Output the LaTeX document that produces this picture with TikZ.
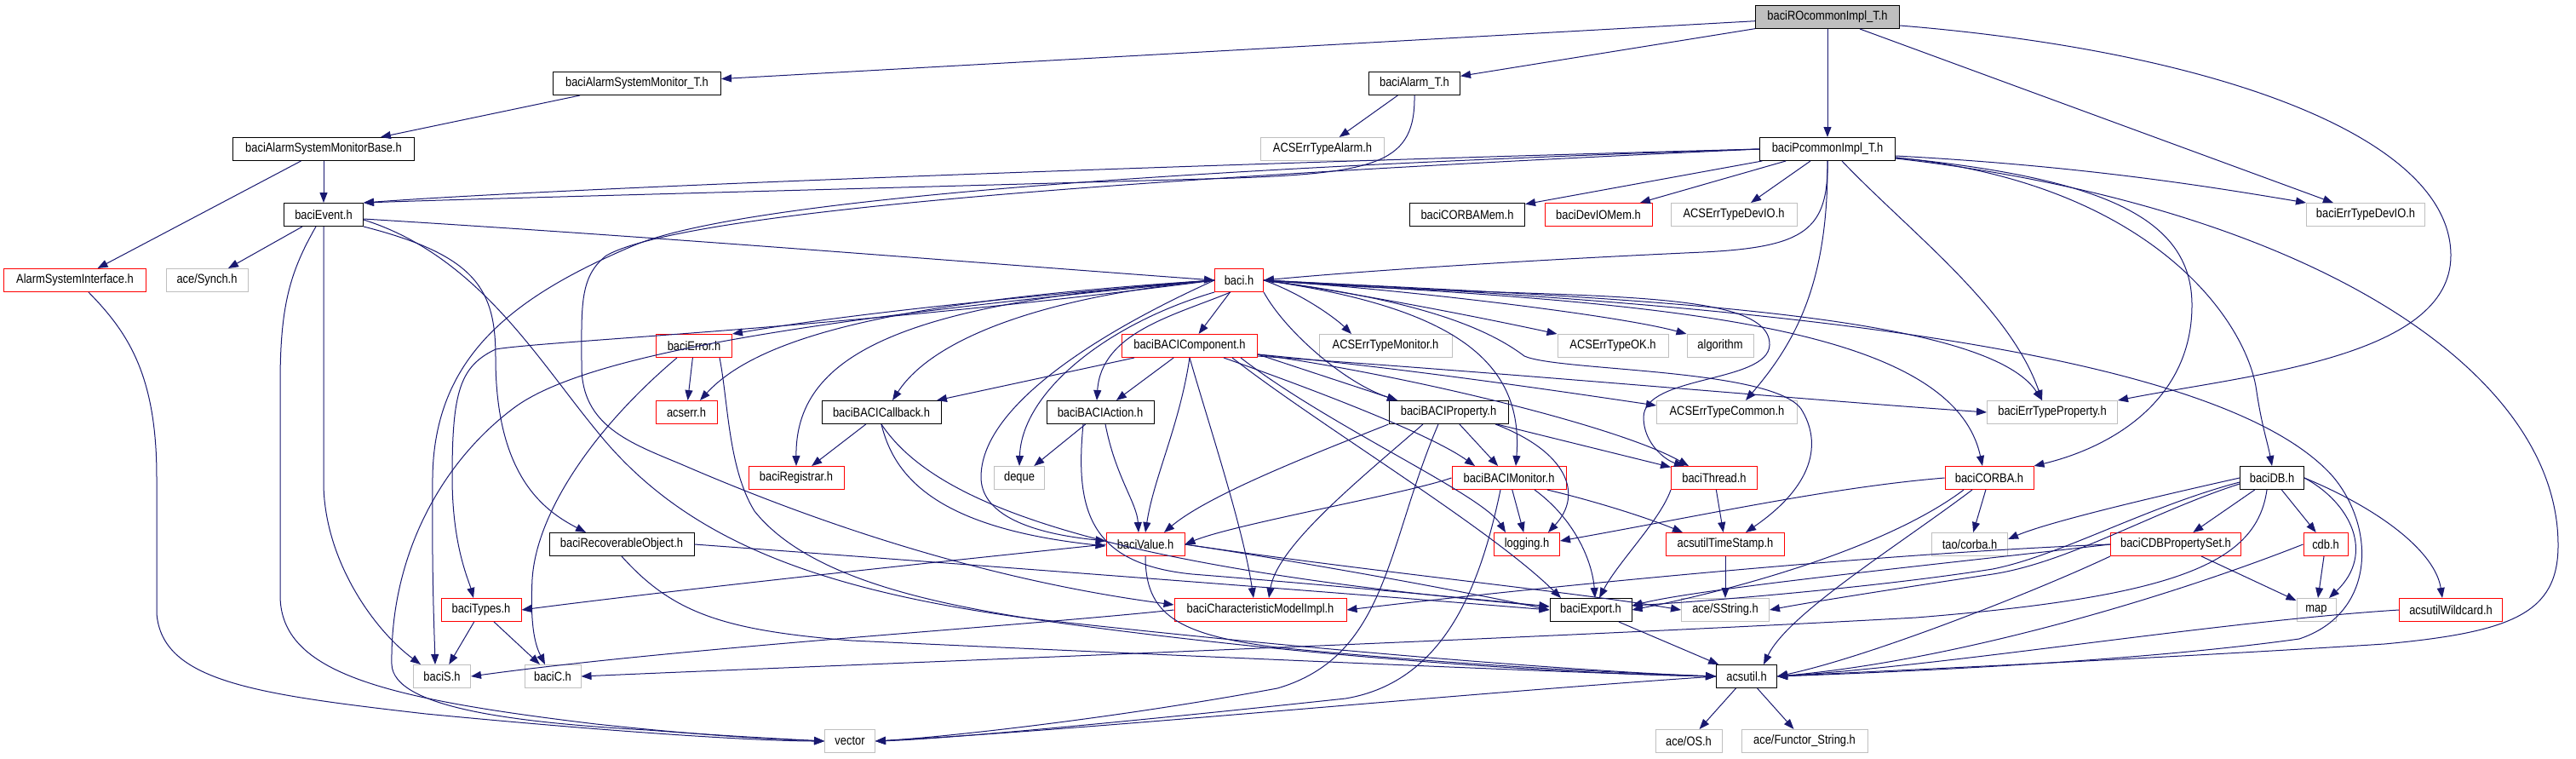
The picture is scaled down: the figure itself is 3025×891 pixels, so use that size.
\documentclass[tikz,border=0pt]{standalone}
\usepackage{fontspec}
\setmainfont{Liberation Sans}[FakeStretch=0.86]
\usetikzlibrary{arrows.meta}
\definecolor{navy}{HTML}{191970}
\definecolor{gbord}{HTML}{BFBFBF}
\begin{document}
\begin{tikzpicture}[x=1pt,y=-1pt,
  box/.style={draw, minimum height=27pt, inner sep=0pt, line width=1pt, font=\fontsize{15}{15}\selectfont, text=black},
  blk/.style={box, draw=black},
  redb/.style={box, draw=red},
  gryb/.style={box, draw=gbord},
  rootb/.style={box, draw=black, fill=gbord},
  edge/.style={draw=navy, line width=1pt, -{Triangle[length=12pt,width=9pt]}}]
\useasboundingbox (0,0) rectangle (3025,891);
% nodes
\node[rootb, minimum width=169pt] (RO) at (2146,20) {baciROcommonImpl\_T.h};
\node[blk, minimum width=197pt] (ASMT) at (748,98) {baciAlarmSystemMonitor\_T.h};
\node[blk, minimum width=107pt] (AlT) at (1661,98) {baciAlarm\_T.h};
\node[blk, minimum width=213pt] (ASMB) at (380,175) {baciAlarmSystemMonitorBase.h};
\node[gryb, minimum width=145pt] (ETAl) at (1553,175) {ACSErrTypeAlarm.h};
\node[blk, minimum width=159pt] (Pc) at (2146,175) {baciPcommonImpl\_T.h};
\node[blk, minimum width=93pt] (Ev) at (380,252) {baciEvent.h};
\node[blk, minimum width=135pt] (CMem) at (1723,252) {baciCORBAMem.h};
\node[redb, minimum width=126pt] (DMem) at (1877,252) {baciDevIOMem.h};
\node[gryb, minimum width=148pt] (ETDev) at (2036,252) {ACSErrTypeDevIO.h};
\node[gryb, minimum width=139pt] (bETDev) at (2778,252) {baciErrTypeDevIO.h};
\node[redb, minimum width=167pt] (ASI) at (88,329) {AlarmSystemInterface.h};
\node[gryb, minimum width=96pt] (Syn) at (243,329) {ace/Synch.h};
\node[redb, minimum width=57pt] (baci) at (1455,329) {baci.h};
\node[redb, minimum width=89pt] (Err) at (815,406) {baciError.h};
\node[redb, minimum width=159pt] (Comp) at (1397,406) {baciBACIComponent.h};
\node[gryb, minimum width=156pt] (ETMon) at (1627,406) {ACSErrTypeMonitor.h};
\node[gryb, minimum width=130pt] (ETOK) at (1894,406) {ACSErrTypeOK.h};
\node[gryb, minimum width=78pt] (alg) at (2020,406) {algorithm};
\node[redb, minimum width=72pt] (acserr) at (806,484) {acserr.h};
\node[blk, minimum width=140pt] (Cb) at (1035,484) {baciBACICallback.h};
\node[blk, minimum width=126pt] (Act) at (1292,484) {baciBACIAction.h};
\node[blk, minimum width=140pt] (Prop) at (1701,484) {baciBACIProperty.h};
\node[gryb, minimum width=165pt] (ETCom) at (2028,484) {ACSErrTypeCommon.h};
\node[gryb, minimum width=153pt] (bETProp) at (2410,484) {baciErrTypeProperty.h};
\node[redb, minimum width=112pt] (Reg) at (935,561) {baciRegistrar.h};
\node[gryb, minimum width=59pt] (deq) at (1197,561) {deque};
\node[redb, minimum width=134pt] (Mon) at (1772,561) {baciBACIMonitor.h};
\node[redb, minimum width=101pt] (Thr) at (2013,561) {baciThread.h};
\node[redb, minimum width=104pt] (CORBA) at (2336,561) {baciCORBA.h};
\node[blk, minimum width=75pt] (DB) at (2668,561) {baciDB.h};
\node[blk, minimum width=170pt] (RecO) at (730,639) {baciRecoverableObject.h};
\node[redb, minimum width=92pt] (Val) at (1345,639) {baciValue.h};
\node[redb, minimum width=77pt] (log) at (1793,639) {logging.h};
\node[redb, minimum width=139pt] (TS) at (2026,639) {acsutilTimeStamp.h};
\node[gryb, minimum width=89pt] (tao) at (2313,639) {tao/corba.h};
\node[redb, minimum width=153pt] (CDB) at (2555,639) {baciCDBPropertySet.h};
\node[redb, minimum width=52pt] (cdb) at (2731,639) {cdb.h};
\node[redb, minimum width=94pt] (Ty) at (565,716) {baciTypes.h};
\node[redb, minimum width=202pt] (CM) at (1480,716) {baciCharacteristicModelImpl.h};
\node[blk, minimum width=96pt] (Exp) at (1868,716) {baciExport.h};
\node[gryb, minimum width=103pt] (SStr) at (2026,716) {ace/SString.h};
\node[gryb, minimum width=46pt] (map) at (2720,716) {map};
\node[redb, minimum width=121pt] (Wild) at (2878,716) {acsutilWildcard.h};
\node[gryb, minimum width=67pt] (S) at (519,794) {baciS.h};
\node[gryb, minimum width=66pt] (C) at (649,794) {baciC.h};
\node[blk, minimum width=71pt] (util) at (2051,794) {acsutil.h};
\node[gryb, minimum width=59pt] (vec) at (998,870) {vector};
\node[gryb, minimum width=78pt] (OS) at (1983,870) {ace/OS.h};
\node[gryb, minimum width=148pt] (Fun) at (2119,870) {ace/Functor\_String.h};
% edges from RO
\draw[edge] (RO) -- (ASMT);
\draw[edge] (RO) -- (AlT);
\draw[edge] (RO) -- (Pc);
\draw[edge] (RO) -- (bETDev);
\draw[edge] ([yshift=-10pt]RO.east) .. controls (2600,60) and (2878,160) .. (2878,300) .. controls (2878,420) and (2640,440) .. (bETProp.north east);
\draw[edge] (ASMT) -- (ASMB);
\draw[edge] (ASMB) -- (Ev);
\draw[edge] (ASMB) -- (ASI);
\draw[edge] (AlT) -- (ETAl);
\draw[edge] (AlT.south) .. controls (1662,190) and (1620,203) .. (1450,209) .. controls (1000,222) and (600,232) .. (Ev.north east);
% Pcommon
\draw[edge] (Pc.west) .. controls (1500,190) and (700,218) .. (Ev.north east);
\draw[edge] (Pc.west) .. controls (1300,210) and (800,250) .. (712,300) .. controls (680,325) and (683,360) .. (683,430) .. controls (683,500) and (740,520) .. (800,545) .. controls (950,610) and (1150,680) .. ([yshift=6pt]CM.west);
\draw[edge] (Pc.west) .. controls (1300,200) and (850,240) .. (740,290) .. controls (600,350) and (510,420) .. (508,560) .. controls (507,680) and (510,740) .. ([xshift=-8pt]S.north);
\draw[edge] (Pc.south) .. controls (2147,270) and (2120,290) .. (2000,296) .. controls (1800,305) and (1600,318) .. (baci.east);
\draw[edge] (Pc) -- (CMem);
\draw[edge] (Pc) -- (DMem);
\draw[edge] (Pc) -- (ETDev);
\draw[edge] (Pc.south) .. controls (2147,330) and (2110,400) .. ([xshift=22pt]ETCom.north);
\draw[edge] ([xshift=17pt]Pc.south) .. controls (2240,270) and (2360,360) .. ([xshift=-12pt]bETProp.north);
\draw[edge] ([yshift=-8pt]Pc.east) .. controls (2450,195) and (2600,220) .. (bETDev.north west);
\draw[edge] ([yshift=-10pt]Pc.east) .. controls (2480,210) and (2575,260) .. (2574,360) .. controls (2573,470) and (2480,525) .. (CORBA.north east);
\draw[edge] ([yshift=-10pt]Pc.east) .. controls (2530,215) and (2640,380) .. (2650,460) .. controls (2656,500) and (2663,520) .. (DB.north);
\draw[edge] ([yshift=-11pt]Pc.east) .. controls (2700,240) and (3004,430) .. (3004,640) .. controls (3004,720) and (2950,742) .. (2800,756) .. controls (2500,775) and (2200,788) .. (util.east);
% Event
\draw[edge] (Ev) -- (Syn);
\draw[edge] ([xshift=-9pt]Ev.south) .. controls (340,320) and (329,360) .. (329,450) -- (329,700) .. controls (330,790) and (450,820) .. (700,850) .. controls (850,866) and (920,868) .. (vec.west);
\draw[edge] (Ev.south) -- (380,570) .. controls (382,660) and (440,740) .. ([xshift=-25pt]S.north);
\draw[edge] (Ev.south east) .. controls (560,300) and (582,340) .. (582,420) .. controls (582,560) and (640,600) .. ([xshift=-42pt]RecO.north);
\draw[edge] ([yshift=-6pt]Ev.east) .. controls (560,300) and (630,420) .. (700,505) .. controls (800,630) and (950,690) .. (1200,725) .. controls (1600,770) and (1900,790) .. (util.west);
\draw[edge] ([yshift=-5pt]Ev.east) .. controls (800,280) and (1100,305) .. (baci.west);
\draw[edge] ([xshift=16pt]ASI.south) .. controls (150,390) and (184,440) .. (184,560) -- (184,720) .. controls (190,800) and (300,815) .. (500,838) .. controls (750,862) and (900,870) .. (vec.west);
% baci left
\draw[edge] (baci.west) .. controls (1200,348) and (1000,368) .. (Err.north east);
\draw[edge] (baci.west) .. controls (1100,350) and (900,385) .. ([xshift=16pt]acserr.north);
\draw[edge] (Err) -- (acserr);
\draw[edge] (baci.west) .. controls (1050,355) and (934,420) .. (Reg.north);
\draw[edge] (baci.west) .. controls (1250,345) and (1100,390) .. ([xshift=13pt]Cb.north);
\draw[edge] (Cb) -- (Reg);
\draw[edge] (baci.south west) .. controls (1300,380) and (1200,460) .. (deq.north);
\draw[edge] (Act) -- (deq);
\draw[edge] ([xshift=-10pt]baci.south) .. controls (1380,370) and (1293,390) .. ([xshift=-4pt]Act.north);
\draw[edge] (Comp) -- (Act);
\draw[edge] (Comp) -- (Cb);
\draw[edge] (baci) -- (Comp);
\draw[edge] (baci.west) .. controls (1280,395) and (1152,480) .. (1152,560) .. controls (1152,600) and (1200,625) .. ([yshift=4pt]Val.west);
\draw[edge] (baci.west) .. controls (1000,385) and (640,400) .. (582,410) .. controls (540,430) and (531,460) .. (531,560) .. controls (531,640) and (550,680) .. ([xshift=-9pt]Ty.north);
\draw[edge] (baci.west) .. controls (1000,370) and (700,410) .. (606,477) .. controls (520,540) and (458,650) .. (460,780) .. controls (462,830) and (600,848) .. (760,857) .. controls (850,864) and (930,868) .. (vec.west);
\draw[edge] ([xshift=30pt]Err.south) .. controls (855,470) and (855,550) .. (886,600) .. controls (950,680) and (1100,710) .. (1235,730) .. controls (1600,780) and (1900,792) .. (util.west);
% baci right
\draw[edge] (baci.east) .. controls (1530,345) and (1570,375) .. ([xshift=-40pt]ETMon.north);
\draw[edge] (baci.east) .. controls (1600,345) and (1750,375) .. (ETOK.north west);
\draw[edge] (baci.east) .. controls (1650,340) and (1900,370) .. (alg.north west);
\draw[edge] (baci.south east) .. controls (1510,390) and (1580,450) .. ([xshift=-60pt]Prop.north);
\draw[edge] (baci.east) .. controls (1700,360) and (1790,420) .. ([xshift=8pt]Mon.north);
\draw[edge] (baci.east) .. controls (1800,355) and (2080,330) .. (2078,405) .. controls (2076,450) and (1930,440) .. (1930,490) .. controls (1930,520) and (1955,540) .. ([xshift=-35pt]Thr.north);
\draw[edge] (baci.east) .. controls (1650,350) and (1740,380) .. (1790,418) .. controls (1830,436) and (2080,432) .. (2115,480) .. controls (2140,520) and (2130,570) .. ([xshift=24pt]TS.north);
\draw[edge] (baci.east) .. controls (1900,350) and (2330,365) .. ([xshift=-12pt]bETProp.north);
\draw[edge] (baci.east) .. controls (1900,355) and (2290,370) .. ([xshift=-8pt]CORBA.north);
\draw[edge] (baci.east) .. controls (2000,355) and (2600,400) .. (2740,560) .. controls (2790,620) and (2790,720) .. (2700,750) .. controls (2500,778) and (2200,790) .. (util.east);
% Component
\draw[edge] ([yshift=-10pt]Comp.east) -- ([xshift=-60pt]Prop.north);
\draw[edge] ([xshift=40pt]Comp.south) .. controls (1550,460) and (1680,510) .. ([xshift=-40pt]Mon.north);
\draw[edge] ([yshift=-10pt]Comp.east) .. controls (1650,440) and (1900,500) .. ([xshift=-30pt]Thr.north);
\draw[edge] ([yshift=-10pt]Comp.east) .. controls (1650,432) and (1850,462) .. ([yshift=8pt]ETCom.west);
\draw[edge] ([yshift=-12pt]Comp.east) .. controls (1800,440) and (2100,468) .. (bETProp.west);
\draw[edge] (Comp.south) .. controls (1385,500) and (1355,560) .. (Val.north);
\draw[edge] (Comp.south) .. controls (1420,500) and (1460,620) .. ([xshift=-8pt]CM.north);
\draw[edge] ([xshift=60pt]Comp.south) .. controls (1560,500) and (1740,580) .. ([xshift=-25pt]log.north);
\draw[edge] ([xshift=50pt]Comp.south) .. controls (1550,500) and (1750,620) .. ([xshift=-35pt]Exp.north);
% Callback / Action
\draw[edge] (Cb.south) .. controls (1050,560) and (1100,620) .. ([yshift=-2pt]Val.west);
\draw[edge] (Cb.south) .. controls (1090,580) and (1250,662) .. ([yshift=4pt]Exp.west);
\draw[edge] ([xshift=6pt]Act.south) .. controls (1310,560) and (1335,590) .. ([xshift=-8pt]Val.north);
\draw[edge] ([xshift=-20pt]Act.south) .. controls (1262,600) and (1280,662) .. (1400,674) .. controls (1600,690) and (1750,705) .. ([yshift=4pt]Exp.west);
% Property
\draw[edge] (Prop) -- (Mon);
\draw[edge] (Prop) -- (Thr);
\draw[edge] (Prop.south west) .. controls (1550,530) and (1420,580) .. ([xshift=22pt]Val.north);
\draw[edge] ([xshift=-30pt]Prop.south) .. controls (1600,560) and (1500,640) .. ([xshift=10pt]CM.north);
\draw[edge] ([xshift=55pt]Prop.south) .. controls (1840,530) and (1860,580) .. ([xshift=25pt]log.north);
\draw[edge] ([xshift=-12pt]Prop.south) .. controls (1628,640) and (1630,770) .. (1500,808) .. controls (1300,845) and (1100,866) .. (vec.east);
% Monitor
\draw[edge] (Mon.west) .. controls (1650,580) and (1450,615) .. (Val.east);
\draw[edge] (Mon) -- (log);
\draw[edge] ([xshift=45pt]Mon.south) .. controls (1880,590) and (1940,610) .. ([xshift=-50pt]TS.north);
\draw[edge] ([xshift=30pt]Mon.south) .. controls (1850,610) and (1870,660) .. ([xshift=5pt]Exp.north);
\draw[edge] ([xshift=-10pt]Mon.south) .. controls (1740,680) and (1700,800) .. (1580,820) .. controls (1300,850) and (1100,868) .. (vec.east);
% Thread
\draw[edge] (Thr) -- (TS);
\draw[edge] (Thr.south west) .. controls (1950,610) and (1900,660) .. ([xshift=10pt]Exp.north);
% lower
\draw[edge] (CM.west) .. controls (1200,735) and (800,760) .. (S.east);
\draw[edge] (Val.west) .. controls (1000,670) and (750,698) .. (Ty.east);
\draw[edge] (Val.east) .. controls (1500,655) and (1700,690) .. (Exp.west);
\draw[edge] (Val.east) .. controls (1600,670) and (1850,695) .. (SStr.west);
\draw[edge] (Val.south) .. controls (1345,720) and (1380,745) .. (1500,760) .. controls (1700,780) and (1900,790) .. (util.west);
\draw[edge] (Ty) -- (S);
\draw[edge] (Ty) -- (C);
\draw[edge] ([xshift=-20pt]Err.south) .. controls (700,500) and (630,600) .. (625,680) .. controls (622,740) and (630,760) .. ([xshift=-9pt]C.north);
\draw[edge] (RecO.east) .. controls (1100,660) and (1500,690) .. (Exp.west);
\draw[edge] (RecO.south) .. controls (790,720) and (850,740) .. (1000,752) .. controls (1500,775) and (1900,792) .. (util.west);
\draw[edge] (Exp) -- (util);
\draw[edge] (util) -- (OS);
\draw[edge] (util) -- (Fun);
\draw[edge] (util.west) .. controls (1700,815) and (1300,855) .. (vec.east);
\draw[edge] (TS) -- (SStr);
% CORBA / DB
\draw[edge] (CORBA) -- (tao);
\draw[edge] (CORBA.west) .. controls (2150,572) and (2000,605) .. ([yshift=4pt]log.east);
\draw[edge] ([xshift=-30pt]CORBA.south) .. controls (2220,640) and (2050,690) .. (Exp.east);
\draw[edge] ([xshift=-20pt]CORBA.south) .. controls (2230,640) and (2100,720) .. ([xshift=20pt]util.north);
\draw[edge] (DB.west) .. controls (2500,590) and (2400,615) .. ([yshift=6pt]tao.east);
\draw[edge] (DB) -- (CDB);
\draw[edge] (DB) -- (cdb);
\draw[edge] (DB.east) .. controls (2760,590) and (2790,650) .. ([xshift=15pt]map.north);
\draw[edge] (DB.east) .. controls (2800,600) and (2860,650) .. ([xshift=-10pt]Wild.north);
\draw[edge] ([yshift=-5pt]DB.west) .. controls (2520,595) and (2420,652) .. (2340,668) .. controls (2200,690) and (2000,706) .. ([yshift=5pt]Exp.east);
\draw[edge] ([yshift=-7pt]DB.west) .. controls (2530,600) and (2430,660) .. (2340,674) .. controls (2200,695) and (2120,708) .. (SStr.east);
\draw[edge] ([xshift=-6pt]DB.south) .. controls (2650,660) and (2560,700) .. (2250,725) .. controls (1800,750) and (1000,780) .. (C.east);
\draw[edge] (CDB) -- (map);
\draw[edge] (CDB.west) .. controls (2300,660) and (2000,690) .. ([yshift=5pt]Exp.east);
\draw[edge] (CDB.west) .. controls (2200,650) and (1800,690) .. (CM.east);
\draw[edge] (CDB.south west) .. controls (2400,690) and (2200,770) .. (util.east);
\draw[edge] (cdb) -- (map);
\draw[edge] (cdb.west) .. controls (2550,700) and (2300,775) .. (util.east);
\draw[edge] (Wild.west) .. controls (2600,730) and (2300,780) .. (util.east);
\end{tikzpicture}
\end{document}
